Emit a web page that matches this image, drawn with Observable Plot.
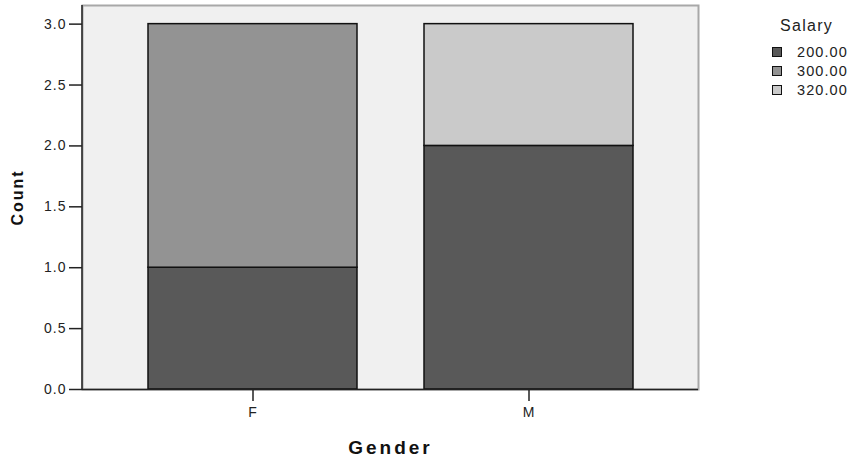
<!DOCTYPE html>
<html>
<head>
<meta charset="utf-8">
<script src="https://cdn.jsdelivr.net/npm/d3@7"></script>
<script src="https://cdn.jsdelivr.net/npm/@observablehq/plot@0.6"></script>
<style>
  html, body { margin: 0; padding: 0; background: #ffffff; }
  #wrap { position: relative; width: 851px; height: 458px; font-family: "Liberation Sans", Arial, sans-serif; }
  #legend { position: absolute; left: 770px; top: 16px; color: #222; }
  #legend .title { position: absolute; left: 10px; top: 1px; font-size: 16px; letter-spacing: 1.3px; white-space: nowrap; }
  #legend .item { position: absolute; left: 0; white-space: nowrap; font-size: 14.5px; letter-spacing: 1.1px; }
  #legend .sw { position: absolute; left: 2px; top: 3px; width: 8px; height: 8px; border: 1px solid #111; }
  #legend .lab { position: absolute; left: 27px; top: 0px; }
</style>
</head>
<body>
<div id="wrap"></div>
<script>
// ---- data ----
const genders = ["F", "M"];
const salaries = ["200.00", "300.00", "320.00"];
const countsF = [1, 2, 0];   // per salary, gender F
const countsM = [2, 0, 1];   // per salary, gender M
const yTicks = [0, 0.5, 1, 1.5, 2, 2.5, 3];
const salaryColors = ["#595959", "#939393", "#cacaca"];

const table = [];
salaries.forEach((s, i) => {
  if (countsF[i] > 0) table.push({gender: "F", salary: s, count: countsF[i]});
});
salaries.forEach((s, i) => {
  if (countsM[i] > 0) table.push({gender: "M", salary: s, count: countsM[i]});
});

const chart = Plot.plot({
  width: 851,
  height: 458,
  marginLeft: 82,
  marginRight: 153,
  marginTop: 5,
  marginBottom: 69,
  style: {fontFamily: "Liberation Sans, Arial, sans-serif", fontSize: "14px", color: "#222", background: "transparent"},
  x: {domain: genders, paddingInner: 0.244, paddingOuter: 0.235, axis: null},
  y: {domain: [0, 3.153], axis: null},
  color: {domain: salaries, range: salaryColors},
  marks: [
    Plot.frame({fill: "#f0f0f0", stroke: "#a8a8a8", strokeWidth: 2}),
    Plot.barY(table, Plot.stackY({x: "gender", y: "count", fill: "salary", stroke: "#111", strokeWidth: 1.5, order: salaries})),
    Plot.axisY({ticks: yTicks, tickFormat: d3.format(".1f"), tickSize: 13, tickPadding: 3, strokeWidth: 1.5, stroke: "#222", label: null, fontSize: 14}),
    Plot.axisX({tickSize: 12, tickPadding: 6, strokeWidth: 1.5, stroke: "#222", label: null, fontSize: 14}),
    Plot.ruleY([0], {stroke: "#222", strokeWidth: 1.5}),
    Plot.text(["Count"], {frameAnchor: "left", dx: -65, rotate: -90, textAnchor: "middle", fontWeight: "bold", fontSize: 16, fill: "#111"}),
    Plot.text(["Gender"], {frameAnchor: "bottom", dy: 58, lineAnchor: "middle", textAnchor: "middle", fontWeight: "bold", fontSize: 19, fill: "#111"})
  ]
});

// left axis line
d3.select(chart).append("line")
  .attr("x1", 82).attr("x2", 82).attr("y1", 5).attr("y2", 389)
  .attr("stroke", "#222").attr("stroke-width", 1.5);

d3.select(chart).selectAll("text").attr("letter-spacing", "1px");
d3.select(chart).selectAll("text").filter(function() { return this.textContent === "Count"; }).attr("letter-spacing", "2px");
d3.select(chart).selectAll("text").filter(function() { return this.textContent === "Gender"; }).attr("letter-spacing", "3px");

const wrap = document.getElementById("wrap");
wrap.appendChild(chart);

// legend
const legend = document.createElement("div");
legend.id = "legend";
let html = `<div class="title">Salary</div>`;
salaries.forEach((s, i) => {
  html += `<div class="item" style="top:${28 + i * 19}px"><div class="sw" style="background:${salaryColors[i]}"></div><div class="lab">${s}</div></div>`;
});
legend.innerHTML = html;
wrap.appendChild(legend);
</script>
</body>
</html>
